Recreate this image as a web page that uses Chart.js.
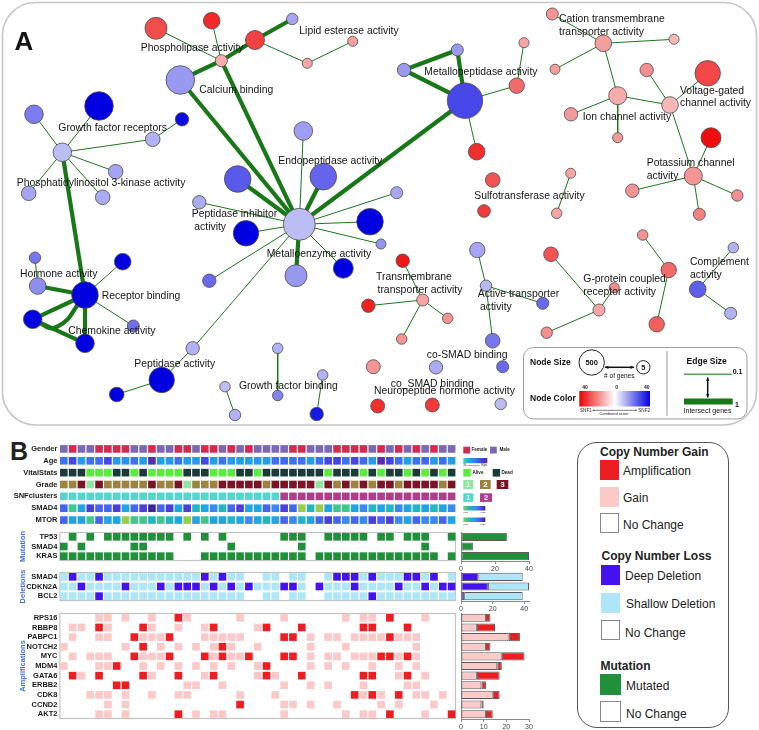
<!DOCTYPE html>
<html>
<head>
<meta charset="utf-8">
<title>GO network and oncoprint</title>
<script src="https://cdn.jsdelivr.net/npm/chart.js@4.4.1/dist/chart.umd.min.js"></script>
<style>
  html, body { margin: 0; padding: 0; background: #fff; }
  #page { position: relative; width: 759px; height: 730px; overflow: hidden;
          font-family: 'Liberation Sans', Arial, Helvetica, sans-serif; color: #222; }
  #page canvas { position: absolute; }
  .lg { position: absolute; white-space: nowrap; line-height: 1; transform: translateY(-50%); font-size: 12px; }
  .hd { font-weight: bold; }
  .sw { position: absolute; box-sizing: border-box; }
</style>
</head>
<body>
<div id="page">
  <div class="lg hd" style="left:10px;top:451px;font-size:25px;">B</div>

  <div class="sw" style="left:577px;top:441.5px;width:151.5px;height:286px;border:1.3px solid #555;border-radius:20px;"></div>
  <div class="lg hd" style="left:600px;top:452px;">Copy Number Gain</div>
  <div class="sw" id="swAmp" style="left:600px;top:460px;width:18.5px;height:19.5px;"></div>
  <div class="lg" style="left:623px;top:471px;">Amplification</div>
  <div class="sw" id="swGain" style="left:600px;top:487px;width:18.5px;height:19.5px;"></div>
  <div class="lg" style="left:623px;top:497.5px;">Gain</div>
  <div class="sw" style="left:600px;top:513px;width:19px;height:20px;border:1px solid #888;"></div>
  <div class="lg" style="left:623px;top:524.5px;">No Change</div>

  <div class="lg hd" style="left:601.5px;top:556px;">Copy Number Loss</div>
  <div class="sw" id="swDeep" style="left:600.5px;top:565px;width:19.5px;height:20px;"></div>
  <div class="lg" style="left:625px;top:576px;">Deep Deletion</div>
  <div class="sw" id="swShallow" style="left:600.5px;top:592.5px;width:19.5px;height:20px;"></div>
  <div class="lg" style="left:626px;top:603.5px;">Shallow Deletion</div>
  <div class="sw" style="left:600.5px;top:619.5px;width:19.5px;height:20.5px;border:1px solid #888;"></div>
  <div class="lg" style="left:625px;top:632.5px;">No Change</div>

  <div class="lg hd" style="left:600.5px;top:666px;">Mutation</div>
  <div class="sw" id="swMut" style="left:600px;top:674px;width:21px;height:21px;"></div>
  <div class="lg" style="left:626px;top:686px;">Mutated</div>
  <div class="sw" style="left:600px;top:701px;width:21px;height:21px;border:1px solid #888;"></div>
  <div class="lg" style="left:626px;top:713.5px;">No Change</div>
</div>

<script>
// ===== Panel A: GO term network =====
const nodeIds = [
  'phos','pl1','pl2','pl3','le1','le3','le2','calc',
  'gfr','gfr1','gfr2','gfr4','gfr3','pi3k1','pi3k2','pi3k3',
  'menz','endo1','endo2','endo3','pinh1','pinh','menz1','menz2','menz3','menz4','menz5','menz6',
  'mpep','mpep1','mpep2','mpep3','mpep4','mpep5',
  'cat','cat1','cat2','cat3','ion','ion1','ion2','volt','volt1','volt2','kch','kch1','kch2','kch3','kch4',
  'sulf1','sulf2','sulf3','sulf4',
  'tm','tm1','tm2','tm3','tm4',
  'at','at1','at2','at3',
  'gp','gp1','gp2','gp3',
  'rc1','rc2','rc3',
  'comp','comp1','comp2',
  'smad1','smad2','smad3','np1','np2','np3',
  'rb','horm','horm1','rb1','chem1','chem2','rb2',
  'pep','pep1','pep2',
  'gfb1','gfb2','gfb3','gfb4','gfb5','gfb6'
];
const nodeX = [
  221.3,156,211.7,255,292.3,307.3,352.7,180.3,
  62.3,99,34,152.7,182,115.7,28.7,102.7,
  299.3,303.3,237.7,323.3,199.3,246,370,381,396.7,296,343.3,209.3,
  465,457.3,404,516.7,524,476.7,
  603.3,552.3,674,555,617.7,571,617.7,670,646.7,707.7,693.3,711,632.3,737.3,699.3,
  492.7,484,570.7,556.7,
  422.7,402.7,447.7,401.7,368.3,
  486,477.3,542.7,492.7,
  599,551,614.3,546.7,
  642.7,668.7,656.7,
  697.7,733.3,730.7,
  436,502.7,373.3,377.7,432.3,500.7,
  85,37.7,35,122.7,32.7,85,133.3,
  161.7,192.7,116.7,
  277.7,277.7,225,235,322.7,316.7
];
const nodeY = [
  60.7,28.3,20.7,40,19,63.3,41.3,80,
  152.3,106,114.3,139.3,119.3,171.7,193.3,197.3,
  224.3,131,179,176.7,202.3,233.3,221.7,244,192.7,275.7,268.3,280.7,
  100.7,50,70,85.7,42.7,151.7,
  43.3,14,39.3,69.3,95.7,114.3,137.7,105,70,73.3,176,137.7,190.7,195.5,214.3,
  180,211,173.3,213.3,
  300,260.7,318.3,339,305.7,
  285.7,250,303.3,340.7,
  310,254.3,287.7,332.7,
  235,270,324.3,
  289.3,247.7,313.3,
  367.3,366.7,366.7,406,405,404,
  295,286,257.7,261.7,319.3,343.3,326,
  380,348.3,394.5,
  348.3,395.5,386.7,415,375,414
];
const nodeGenes = [
  19,144,62,94,15,8,8,292,
  88,292,88,40,29,40,40,40,
  388,88,241,241,29,214,241,8,19,144,109,29,
  498,19,29,48,8,62,
  62,19,8,8,80,29,8,62,29,214,80,109,29,15,19,
  40,23,8,10,
  19,29,10,10,29,
  15,48,19,40,
  19,40,8,15,
  10,48,48,
  62,10,19,
  29,19,34,34,34,15,
  241,62,15,62,88,88,19,
  214,29,40,
  10,10,10,15,10,29
];
// combined score: negative = SNF1 (red), positive = SNF2 (blue)
const nodeScore = [
  -11,-27,-33,-29,12,-12,-13,14,
  8,40,19,10,38,12,12,11,
  8,13,25,23,11,40,40,15,12,14,40,22,
  28,14,14,-22,-12,-32,
  -13,-15,-9,-13,-11,-14,-14,-9,-16,-28,-15,-38,-15,-16,-18,
  -26,-30,-12,-12,
  -12,-36,-15,-15,-34,
  9,12,22,20,
  -12,-26,-16,-16,
  -15,-22,-24,
  24,10,10,
  11,22,-15,-32,-30,8,
  40,16,20,40,40,40,21,
  40,10,40,
  10,18,8,10,10,36
];
const edgeFrom = [
  'phos','phos','phos','pl3','pl3','le3','phos','phos','calc',
  'gfr','gfr','gfr','gfr4','gfr','gfr','gfr','gfr',
  'menz','menz','menz','menz','menz','menz','menz','menz','menz','menz','menz','menz','menz',
  'mpep','mpep','mpep1','mpep','mpep3','mpep',
  'cat','cat','cat','cat','ion','ion','ion','volt','volt','volt','kch','kch','kch','kch',
  'sulf3',
  'tm','tm','tm','tm',
  'at','at','at',
  'gp','gp','gp',
  'rc1','rc2',
  'comp','comp',
  'rb','horm','rb','rb','rb','chem1','rb',
  'pep','pep',
  'gfb1','gfb3','gfb5'
];
const edgeTo = [
  'pl1','pl2','pl3','le1','le3','le2','calc','menz','menz',
  'gfr1','gfr2','gfr4','gfr3','pi3k1','pi3k2','pi3k3','rb',
  'endo1','endo2','endo3','pinh1','pinh','menz1','menz2','menz3','menz4','menz5','menz6','mpep','pep1',
  'mpep1','mpep2','mpep2','mpep3','mpep4','mpep5',
  'cat1','cat2','cat3','ion','ion1','ion2','volt','volt1','volt2','kch','kch1','kch2','kch3','kch4',
  'sulf4',
  'tm1','tm2','tm3','tm4',
  'at1','at2','at3',
  'gp1','gp2','gp3',
  'rc2','rc3',
  'comp1','comp2',
  'horm','horm1','rb1','chem1','chem2','chem2','rb2',
  'pep1','pep2',
  'gfb2','gfb4','gfb6'
];
// intersect genes, 0.1 (thin) .. 1 (thick)
const edgeWeight = [
  0.1,0.1,1,1,0.1,0.1,1,1,1,
  0.1,0.1,0.1,0.1,0.1,0.1,0.1,1,
  0.1,1,1,0.1,0.1,0.1,0.1,0.1,1,0.1,0.1,1,0.1,
  1,1,1,0.1,0.1,0.1,
  0.1,0.1,0.1,0.1,0.1,0.1,0.1,0.1,0.1,0.1,0.1,0.1,0.1,0.1,
  0.1,
  0.1,0.1,0.1,0.1,
  0.1,0.1,0.1,
  0.1,0.1,0.1,
  0.1,0.1,
  0.1,0.1,
  1,0.1,0.1,1,1,1,0.1,
  0.1,0.1,
  0.1,0.1,0.1
];
// second, bent edge between Chemokine node and Receptor binding
const curvedEdges = [['chem1', 'rb', 56.5, 327, 1]];

const netLabels = [
  ['Phospholipase activity', 140.7, 47.7],
  ['Lipid esterase activity', 299.3, 30.7],
  ['Calcium binding', 199.3, 90],
  ['Growth factor receptors', 58.3, 127.7],
  ['Phosphatidylinositol 3-kinase activity', 16.7, 183.3],
  ['Endopeptidase activity', 278.3, 160.7],
  ['Metallopeptidase activity', 424.3, 72.3],
  ['Cation transmembrane', 559, 19.3],
  ['transporter activity', 559, 32.3],
  ['Voltage-gated', 680, 90.7],
  ['channel activity', 680, 103.3],
  ['Ion channel activity', 582.7, 116.7],
  ['Potassium channel', 646.7, 163.3],
  ['activity', 646.7, 176],
  ['Sulfotransferase activity', 474.3, 195.7],
  ['Peptidase inhibitor', 191.7, 214.3],
  ['activity', 194.3, 227],
  ['Metalloenzyme activity', 266.7, 254],
  ['Hormone activity', 20, 274.3],
  ['Receptor binding', 101.7, 295.7],
  ['Chemokine activity', 68.3, 331],
  ['Peptidase activity', 134.3, 364.3],
  ['Growth factor binding', 239, 385.7],
  ['Transmembrane', 376, 276.7],
  ['transporter activity', 377.5, 289.7],
  ['Active transporter', 477.7, 294.3],
  ['activity', 480, 306.7],
  ['G-protein coupled', 583.3, 279.3],
  ['receptor activity', 583.3, 291.7],
  ['Complement', 690, 262.3],
  ['activity', 690, 275],
  ['co-SMAD binding', 426.7, 355],
  ['co_SMAD binding', 390.7, 384],
  ['Neuropeptide hormone activity', 374, 391.3]
];

// ===== Panel B: oncoprint (45 patients) =====
const clinRows = ['Gender', 'Age', 'VitalStats', 'Grade', 'SNFclusters', 'SMAD4', 'MTOR'];
const gender = 'MFMMFFFFMMFMMFFMFFMFMF' + 'MMMMFFMMMFFFFMFMFMFMFMM';
const ageYears = [62,74,48,62,62,74,50,52,62,48,88,48,50,62,48,50,74,48,62,50,48,48,
                  50,48,62,64,62,62,48,62,74,76,62,74,64,50,88,74,62,48,62,64,50,62,48];
const vital = 'DDDAAADDADAAAADDDAAADD' + 'ADDDDDDDADDDADADDADADAD';
const grade = '2231322222322312223333' + '32333331323232332333323';
const snfCluster = '1111111111111111111111111' + '22222222222222222222';
const smad4Expr = [6,2,4,7,6,6,7,4,6,7,8,6,7,4,7,3,4,5,3,6,7,4,
                   4,6,5,7,6,1,3,1,4,2,2,4,5,3,4,3,5,4,3,4,3,4,5];
const mtorExpr = [6,4,4,2,6,4,4,1,2,2,3,2,3,4,1,4,2,4,4,3,4,5,
                  4,3,4,6,5,3,4,6,7,6,5,6,5,7,6,7,5,4,6,5,5,6,4];

// 1 = mutated
const mutGenes = ['TP53', 'SMAD4', 'KRAS'];
const mutCalls = [
  '01010 11111 11101 01010 00000 11100 11111 01101 11001',
  '10100 00011 00000 00001 00000 00100 00000 00000 01000',
  '11111 11111 11100 01111 11111 11101 11111 11111 11101'
];
// 1 = shallow deletion, 2 = deep deletion
const delGenes = ['SMAD4', 'CDKN2A', 'BCL2'];
const delCalls = [
  '12112 11111 11111 12121 10011 01100 12221 21112 21201',
  '11211 11211 12122 21212 12111 22102 11121 11121 12122',
  '11112 11111 11111 11111 10011 01100 11111 21111 11111'
];
// 1 = gain, 2 = amplification
const ampGenes = ['RPS16', 'RBBP8', 'PABPC1', 'NOTCH2', 'MYC', 'MDM4', 'GATA6', 'ERBB2', 'CDK8', 'CCND2', 'AKT2'];
const ampCalls = [
  '00001 10100 10021 00000 10000 10000 00101 10200 01000',
  '01102 10002 10010 01200 00120 00200 00002 20002 00000',
  '01001 10021 11200 01111 10000 22010 11011 11211 10000',
  '10000 00102 01010 10121 00100 00010 00100 00000 10000',
  '01011 10021 11200 02121 12000 22010 11011 12212 10000',
  '10001 12001 01010 10101 00120 00010 10100 10010 10000',
  '02102 00002 10020 01200 00121 00200 00002 20012 01000',
  '00000 02200 00001 10010 00000 10010 10001 00001 10000',
  '00011 10100 10011 00000 10001 00000 00021 21020 11010',
  '00000 10100 00000 00000 20000 11010 01000 01010 00100',
  '00001 10100 00020 10110 00000 10000 00101 10200 01002'
];

// summary bars
const mutCounts = [27, 7, 40];
const delDeep = [11, 17, 2];
const delShallow = [28, 26, 37];
const ampGain = [11, 7, 21, 11, 18, 16, 7, 9, 14, 9, 11];
const ampAmp = [2, 8, 5, 2, 10, 2, 10, 2, 3, 1, 3];
const mutTicks = [0, 20, 40];
const delTicks = [0, 20, 40];
const ampTicks = [0, 10, 20, 30];

// ===== colours =====
const FONT = "'Liberation Sans', Arial, Helvetica, sans-serif";
Chart.defaults.font.family = FONT;
const edgeColor = '#187818';
const genderColor = { F: '#d42a50', M: '#7a68b5' };
const vitalColor = { A: '#58ec3c', D: '#1b3b3a' };
const gradeColor = { 1: '#8ee6a0', 2: '#9c8440', 3: '#7b1326' };
const snfColor = { 1: '#52d6cf', 2: '#ae3d8c' };
const exprColor = ['#9ccb4c', '#3fc78f', '#22b6c2', '#1fa5e2', '#3a89f0', '#4466ee', '#4a3fd6', '#3c2598'];
const ageStops = [[30, [65, 217, 138]], [45, [30, 169, 225]], [60, [61, 120, 239]], [75, [68, 68, 224]], [90, [91, 42, 158]]];
const mutColor = '#21903a';
const deepColor = '#4412ee';
const shallowColor = '#ace6f8';
const gainColor = '#fcc9c9';
const ampColor = '#ec1e22';

document.getElementById('swAmp').style.background = ampColor;
document.getElementById('swGain').style.background = gainColor;
document.getElementById('swDeep').style.background = deepColor;
document.getElementById('swShallow').style.background = shallowColor;
document.getElementById('swMut').style.background = mutColor;

function rgb(c) { return 'rgb(' + c.map(v => Math.round(v)).join(',') + ')'; }
function scoreColor(s) {
  const t = Math.min(Math.abs(s) / 40, 1);
  return s < 0 ? rgb([250 - 12 * t, 236 - 236 * t, 236 - 236 * t])
               : rgb([236 - 236 * t, 236 - 236 * t, 250 - 25 * t]);
}
function ageColor(a) {
  for (let i = 1; i < ageStops.length; i++) {
    if (a <= ageStops[i][0]) {
      const [a0, c0] = ageStops[i - 1], [a1, c1] = ageStops[i];
      const t = (a - a0) / (a1 - a0);
      return rgb(c0.map((c, k) => c + (c1[k] - c) * t));
    }
  }
  return rgb(ageStops[ageStops.length - 1][1]);
}
const geneRadius = g => 3.2 + 0.65 * Math.sqrt(g);
const edgeWidth = w => 1 + (w - 0.1) / 0.9 * 3.2;

function addCanvas(left, top, w, h) {
  const c = document.createElement('canvas');
  c.width = w; c.height = h;
  c.style.left = left + 'px'; c.style.top = top + 'px';
  document.getElementById('page').appendChild(c);
  return c;
}
function rrPath(ctx, x, y, w, h, r) {
  ctx.beginPath();
  ctx.moveTo(x + r, y);
  ctx.arcTo(x + w, y, x + w, y + h, r);
  ctx.arcTo(x + w, y + h, x, y + h, r);
  ctx.arcTo(x, y + h, x, y, r);
  ctx.arcTo(x, y, x + w, y, r);
  ctx.closePath();
}
function arrow(ctx, x1, y1, x2, y2, lw, head) {
  const a = Math.atan2(y2 - y1, x2 - x1);
  ctx.lineWidth = lw;
  ctx.beginPath(); ctx.moveTo(x1, y1); ctx.lineTo(x2, y2); ctx.stroke();
  [[x2, y2, a], [x1, y1, a + Math.PI]].forEach(([x, y, t]) => {
    ctx.beginPath();
    ctx.moveTo(x, y);
    ctx.lineTo(x - head * Math.cos(t - 0.45), y - head * Math.sin(t - 0.45));
    ctx.lineTo(x - head * Math.cos(t + 0.45), y - head * Math.sin(t + 0.45));
    ctx.closePath(); ctx.fill();
  });
}

// ---------- network ----------
function nodeLegend(ctx) {
  ctx.save();
  rrPath(ctx, 523.5, 347.5, 223.5, 71.5, 10);
  ctx.fillStyle = '#fff'; ctx.fill();
  ctx.strokeStyle = '#a0a0a0'; ctx.lineWidth = 1; ctx.stroke();
  ctx.fillStyle = '#111'; ctx.strokeStyle = '#111';
  ctx.textBaseline = 'middle'; ctx.textAlign = 'left';
  ctx.font = 'bold 8.5px ' + FONT;
  ctx.fillText('Node Size', 530, 362.5);
  ctx.fillText('Node Color', 530, 398.5);
  [[591.7, 362.5, 12.7], [643.3, 367.3, 6.7]].forEach(([x, y, r]) => {
    ctx.beginPath(); ctx.arc(x, y, r, 0, 2 * Math.PI);
    ctx.fillStyle = '#fff'; ctx.fill(); ctx.lineWidth = 1; ctx.strokeStyle = '#222'; ctx.stroke();
  });
  ctx.fillStyle = '#111'; ctx.strokeStyle = '#111'; ctx.textAlign = 'center';
  ctx.font = 'bold 7.5px ' + FONT;
  ctx.fillText('500', 591.7, 362.8);
  ctx.fillText('5', 643.3, 367.6);
  arrow(ctx, 605, 367.3, 634, 367.3, 1.5, 3.8);
  ctx.font = '6.5px ' + FONT;
  ctx.fillText('# of genes', 619.3, 376.7);
  const g = ctx.createLinearGradient(579.3, 0, 650, 0);
  g.addColorStop(0, scoreColor(-40)); g.addColorStop(0.5, '#ffffff'); g.addColorStop(1, scoreColor(40));
  ctx.fillStyle = g; ctx.fillRect(579.3, 391, 70.7, 15.5);
  ctx.fillStyle = '#222'; ctx.font = 'bold 5px ' + FONT;
  ctx.fillText('40', 585, 387.6); ctx.fillText('0', 616.7, 387.6); ctx.fillText('40', 646.7, 387.6);
  ctx.font = '4.6px ' + FONT;
  ctx.textAlign = 'left'; ctx.fillText('SNF1', 580, 410.3);
  ctx.textAlign = 'right'; ctx.fillText('SNF2', 650, 410.3);
  ctx.strokeStyle = '#222';
  arrow(ctx, 592.8, 410.3, 637, 410.3, 0.6, 1.6);
  ctx.textAlign = 'center'; ctx.font = '4px ' + FONT;
  ctx.fillText('Combined score', 614, 414.2);
  ctx.strokeStyle = '#9a9a9a'; ctx.lineWidth = 1;
  ctx.beginPath(); ctx.moveTo(667, 351); ctx.lineTo(667, 416); ctx.stroke();
  ctx.fillStyle = '#111'; ctx.font = 'bold 8.5px ' + FONT;
  ctx.fillText('Edge Size', 706.7, 361.7);
  ctx.strokeStyle = '#5a9e5a'; ctx.lineWidth = 1.5;
  ctx.beginPath(); ctx.moveTo(684, 374.3); ctx.lineTo(731.7, 374.3); ctx.stroke();
  ctx.strokeStyle = edgeColor; ctx.lineWidth = 6;
  ctx.beginPath(); ctx.moveTo(684, 401.5); ctx.lineTo(732.7, 401.5); ctx.stroke();
  ctx.font = 'bold 7px ' + FONT; ctx.textAlign = 'left';
  ctx.fillText('0.1', 732.7, 372); ctx.fillText('1', 735, 405.5);
  ctx.strokeStyle = '#111'; ctx.fillStyle = '#111';
  arrow(ctx, 707.7, 377.5, 707.7, 397.5, 1.5, 3.8);
  ctx.textAlign = 'center'; ctx.font = '7px ' + FONT;
  ctx.fillText('Intersect genes', 707.5, 410.6);
  ctx.restore();
}

const netDecor = {
  id: 'netDecor',
  beforeDatasetsDraw(chart) {
    const ctx = chart.ctx;
    ctx.save();
    rrPath(ctx, 2.5, 2.5, 754, 422.5, 33);
    ctx.strokeStyle = '#c6c6c6'; ctx.lineWidth = 1.6; ctx.stroke();
    ctx.restore();
  },
  afterDatasetsDraw(chart) {
    const ctx = chart.ctx, xs = chart.scales.x, ys = chart.scales.y;
    ctx.save();
    ctx.fillStyle = '#141414'; ctx.textBaseline = 'middle'; ctx.textAlign = 'left';
    ctx.font = '10.4px ' + FONT;
    netLabels.forEach(([t, x, y]) => ctx.fillText(t, xs.getPixelForValue(x), ys.getPixelForValue(y)));
    ctx.font = 'bold 26px ' + FONT; ctx.textBaseline = 'alphabetic';
    ctx.fillText('A', 14.5, 49.5);
    ctx.restore();
    nodeLegend(ctx);
  }
};

const nodeIndex = Object.fromEntries(nodeIds.map((id, i) => [id, i]));
const nodePoint = id => ({ x: nodeX[nodeIndex[id]], y: nodeY[nodeIndex[id]] });
const edgeSets = edgeFrom.map((f, i) => ({
  type: 'scatter', showLine: true, order: 2,
  data: [nodePoint(f), nodePoint(edgeTo[i])],
  borderColor: edgeColor, borderWidth: edgeWidth(edgeWeight[i]),
  pointRadius: 0, pointHoverRadius: 0
}));
curvedEdges.forEach(([f, t, bx, by, w]) => edgeSets.push({
  type: 'scatter', showLine: true, order: 2, tension: 0.5,
  data: [nodePoint(f), { x: bx, y: by }, nodePoint(t)],
  borderColor: edgeColor, borderWidth: edgeWidth(w),
  pointRadius: 0, pointHoverRadius: 0
}));

new Chart(addCanvas(0, 0, 759, 430), {
  type: 'scatter',
  data: {
    datasets: [...edgeSets, {
      type: 'bubble', order: 1,
      data: nodeIds.map((id, i) => ({ x: nodeX[i], y: nodeY[i], r: geneRadius(nodeGenes[i]) })),
      backgroundColor: nodeScore.map(scoreColor),
      borderColor: '#4a4a4a', borderWidth: 0.8, hoverRadius: 0
    }]
  },
  options: {
    responsive: false, animation: false, events: [],
    layout: { padding: 0, autoPadding: false },
    plugins: { legend: { display: false }, tooltip: { enabled: false } },
    scales: {
      x: { type: 'linear', min: 0, max: 759, display: false },
      y: { type: 'linear', min: 0, max: 430, reverse: true, display: false }
    }
  },
  plugins: [netDecor]
});

// ---------- oncoprint ----------
const nCols = gender.length;
const CLIN_TOP = 443;

const boxBorder = {
  id: 'boxBorder',
  beforeDatasetsDraw(chart) {
    const a = chart.chartArea, ctx = chart.ctx;
    ctx.save();
    ctx.strokeStyle = '#c2c2c2'; ctx.lineWidth = 1.2;
    ctx.strokeRect(a.left + 0.5, a.top + 0.5, a.right - a.left - 1, a.bottom - a.top - 1);
    ctx.restore();
  }
};

const clinLegend = {
  id: 'clinLegend',
  afterDraw(chart) {
    const ctx = chart.ctx, o = CLIN_TOP;
    const box = (x, y, w, h, c) => { ctx.fillStyle = c; ctx.fillRect(x, y - o, w, h); };
    const txt = (t, x, y, size, bold, color, align) => {
      ctx.fillStyle = color || '#222'; ctx.textAlign = align || 'left'; ctx.textBaseline = 'middle';
      ctx.font = (bold ? 'bold ' : '') + size + 'px ' + FONT; ctx.fillText(t, x, y - o);
    };
    const grad = (x, y, w, h, cols) => {
      const g = ctx.createLinearGradient(x, 0, x + w, 0);
      cols.forEach((c, i) => g.addColorStop(i / (cols.length - 1), c));
      ctx.fillStyle = g; ctx.fillRect(x, y - o, w, h);
    };
    ctx.save();
    box(463.3, 446.7, 6.8, 6.8, genderColor.F); txt('Female', 471.5, 450.2, 4.6, true);
    box(490, 446.7, 6.8, 6.8, genderColor.M); txt('Male', 499.5, 450.2, 4.6, true);
    grad(463.3, 458, 24, 5.2, ageStops.map(s => rgb(s[1])));
    txt('30', 463.3, 465.6, 2.6); txt('90yrs', 481, 465.6, 2.6);
    ctx.strokeStyle = '#333'; ctx.lineWidth = 0.4;
    ctx.beginPath(); ctx.moveTo(467, 465.6 - o); ctx.lineTo(480, 465.6 - o); ctx.stroke();
    box(463.3, 469, 7.4, 7.6, vitalColor.A); txt('Alive', 472.5, 473, 4.6, true);
    box(492.7, 469, 7.4, 7.6, vitalColor.D); txt('Dead', 501.5, 473, 4.6, true);
    [[463.3, 10], [480, 10.7], [496.7, 11.6]].forEach(([x, w], i) => {
      box(x, 480, w, 9, gradeColor[i + 1]); txt(String(i + 1), x + w / 2, 484.8, 8, true, '#fff', 'center');
    });
    [[463.3, 10], [480, 12]].forEach(([x, w], i) => {
      box(x, 493.3, w, 8.6, snfColor[i + 1]); txt(String(i + 1), x + w / 2, 497.8, 8, true, '#fff', 'center');
    });
    [506, 517.5].forEach(y => {
      grad(463.3, y, 22, 4.5, exprColor);
      txt('Low', 463.5, y + 6.6, 2.4); txt('High', 485.3, y + 6.6, 2.4, false, '#222', 'right');
    });
    ctx.restore();
  }
};

// padV: room above/below the block so the rotated block title is not clipped
function heatChart(canvas, rows, colorRows, yWidth, title, padRight, padV, plugins) {
  const pts = [], cols = [];
  colorRows.forEach((row, r) => row.forEach((c, x) => {
    if (c) { pts.push({ x: x, y: r }); cols.push(c); }
  }));
  return new Chart(canvas, {
    type: 'scatter',
    data: { datasets: [{ data: pts, backgroundColor: cols, pointStyle: 'rect', pointRadius: 5.4,
                         pointHoverRadius: 5.4, pointBorderWidth: 0, clip: false }] },
    options: {
      responsive: false, animation: false, events: [],
      layout: { padding: { left: 0, right: padRight, top: padV, bottom: padV }, autoPadding: false },
      plugins: { legend: { display: false }, tooltip: { enabled: false } },
      scales: {
        x: { type: 'linear', min: -0.5, max: nCols - 0.5, display: false },
        y: {
          type: 'linear', min: -0.5, max: rows.length - 0.5, reverse: true,
          afterBuildTicks: s => { s.ticks = rows.map((_, i) => ({ value: i })); },
          afterFit: s => { s.width = yWidth; s.paddingTop = 0; s.paddingBottom = 0; },
          ticks: { callback: v => rows[v], autoSkip: false, padding: 2, color: '#1a1a1a',
                   font: { size: 7.5, weight: 'bold', lineHeight: 0.05 } },
          grid: { display: false, drawTicks: false },
          border: { display: false },
          title: title ? { display: true, text: title, color: '#3b70d8', padding: 4.5,
                           font: { size: 7.5, weight: 'bold' } } : { display: false }
        }
      }
    },
    plugins: plugins
  });
}

const splitCalls = s => s.replace(/ /g, '').split('');
const clinColors = [
  gender.split('').map(v => genderColor[v]),
  ageYears.map(ageColor),
  vital.split('').map(v => vitalColor[v]),
  grade.split('').map(v => gradeColor[v]),
  snfCluster.split('').map(v => snfColor[v]),
  smad4Expr.map(v => exprColor[v - 1]),
  mtorExpr.map(v => exprColor[v - 1])
];
heatChart(addCanvas(0, CLIN_TOP, 520, 83), clinRows, clinColors, 59.4, null, 64, 0, [clinLegend]);

const mutColors = mutCalls.map(r => splitCalls(r).map(v => v === '1' ? mutColor : null));
const delColors = delCalls.map(r => splitCalls(r).map(v => v === '2' ? deepColor : v === '1' ? shallowColor : null));
const ampColors = ampCalls.map(r => splitCalls(r).map(v => v === '2' ? ampColor : v === '1' ? gainColor : null));
heatChart(addCanvas(14, 526, 442, 41), mutGenes, mutColors, 45.4, 'Mutation', 0, 6, [boxBorder]);
heatChart(addCanvas(14, 566, 442, 41), delGenes, delColors, 45.4, 'Deletions', 0, 6, [boxBorder]);
heatChart(addCanvas(14, 607, 442, 118), ampGenes, ampColors, 45.4, 'Amplifications', 0, 6, [boxBorder]);

function barChart(canvas, labels, sets, max, ticks) {
  return new Chart(canvas, {
    type: 'bar',
    data: {
      labels: labels,
      datasets: sets.map(([data, color]) => ({
        data: data, backgroundColor: color, borderColor: '#5a5a5a', borderWidth: 1,
        borderSkipped: false, categoryPercentage: 1, barPercentage: 0.84
      }))
    },
    options: {
      indexAxis: 'y', responsive: false, animation: false, events: [],
      layout: { padding: { left: 6, right: 8, top: 0, bottom: 0 }, autoPadding: false },
      plugins: { legend: { display: false }, tooltip: { enabled: false } },
      scales: {
        x: {
          stacked: true, min: 0, max: max,
          afterBuildTicks: s => { s.ticks = ticks.map(v => ({ value: v })); },
          afterFit: s => { s.height = 12; s.paddingLeft = 0; s.paddingRight = 0; },
          ticks: { font: { size: 7 }, color: '#444', padding: 1, maxRotation: 0 },
          grid: { drawOnChartArea: false, tickLength: 3, color: '#8a8a8a' },
          border: { color: '#8a8a8a' }
        },
        y: {
          stacked: true,
          afterFit: s => { s.width = 0; s.paddingTop = 0; s.paddingBottom = 0; },
          ticks: { display: false },
          grid: { display: false },
          border: { color: '#8a8a8a' }
        }
      }
    }
  });
}
barChart(addCanvas(455, 532, 82, 41), mutGenes, [[mutCounts, mutColor]], 40, mutTicks);
barChart(addCanvas(455, 572, 82, 41), delGenes, [[delDeep, deepColor], [delShallow, shallowColor]], 43, delTicks);
barChart(addCanvas(455, 613, 82, 118), ampGenes, [[ampGain, gainColor], [ampAmp, ampColor]], 30, ampTicks);
</script>
</body>
</html>
